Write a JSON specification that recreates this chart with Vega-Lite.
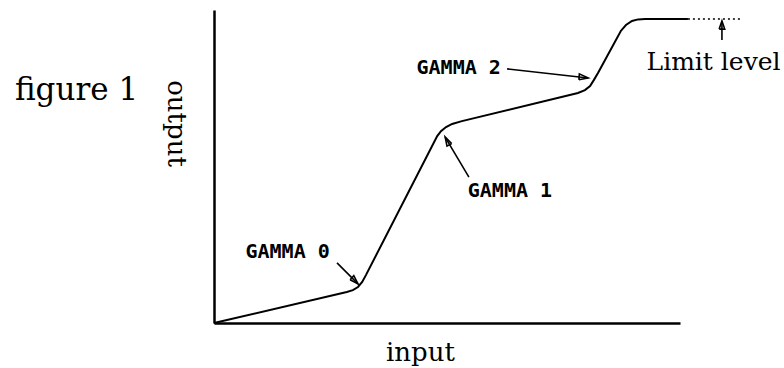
{
  "$schema": "https://vega.github.io/schema/vega-lite/v6.json",
  "autosize": {"type": "none"},
  "width": 466,
  "height": 313,
  "padding": {"left": 214, "top": 10, "right": 104, "bottom": 45},
  "background": "white",
  "config": {"view": {"stroke": null}},
  "datasets": {
    "curve": [
      {"input": 0, "output": 0},
      {"input": 28.5, "output": 9.9},
      {"input": 29.8, "output": 10.5},
      {"input": 30.9, "output": 11.5},
      {"input": 31.8, "output": 13.1},
      {"input": 32.6, "output": 15.3},
      {"input": 47.9, "output": 59.7},
      {"input": 48.7, "output": 61.3},
      {"input": 49.8, "output": 62.6},
      {"input": 51.1, "output": 63.6},
      {"input": 53.2, "output": 64.5},
      {"input": 78.1, "output": 73.5},
      {"input": 79.6, "output": 74.4},
      {"input": 80.7, "output": 75.7},
      {"input": 81.5, "output": 77.6},
      {"input": 82.4, "output": 79.9},
      {"input": 87.3, "output": 93.3},
      {"input": 88.4, "output": 95.2},
      {"input": 89.7, "output": 96.5},
      {"input": 91.0, "output": 97.0},
      {"input": 92.5, "output": 97.1},
      {"input": 101.7, "output": 97.1}
    ],
    "limit": [
      {"input": 101.7, "output": 97.1},
      {"input": 112.9, "output": 97.1}
    ],
    "arrows": [
      {"seg": "g0-shaft", "ord": 1, "input": 26.4, "output": 19.2},
      {"seg": "g0-shaft", "ord": 2, "input": 30.9, "output": 12.5},
      {"seg": "g0-head", "ord": 1, "input": 29.2, "output": 13.8},
      {"seg": "g0-head", "ord": 2, "input": 30.9, "output": 12.5},
      {"seg": "g0-head", "ord": 3, "input": 30.0, "output": 15.1},
      {"seg": "g0-head", "ord": 4, "input": 29.2, "output": 13.8},
      {"seg": "g1-shaft", "ord": 1, "input": 54.7, "output": 46.6},
      {"seg": "g1-shaft", "ord": 2, "input": 49.6, "output": 59.4},
      {"seg": "g1-head", "ord": 1, "input": 51.0, "output": 57.3},
      {"seg": "g1-head", "ord": 2, "input": 49.6, "output": 59.4},
      {"seg": "g1-head", "ord": 3, "input": 50.0, "output": 56.5},
      {"seg": "g1-head", "ord": 4, "input": 51.0, "output": 57.3},
      {"seg": "g2-shaft", "ord": 1, "input": 62.9, "output": 81.2},
      {"seg": "g2-shaft", "ord": 2, "input": 80.3, "output": 78.3},
      {"seg": "g2-head", "ord": 1, "input": 78.3, "output": 77.7},
      {"seg": "g2-head", "ord": 2, "input": 80.3, "output": 78.3},
      {"seg": "g2-head", "ord": 3, "input": 78.4, "output": 79.6},
      {"seg": "g2-head", "ord": 4, "input": 78.3, "output": 77.7},
      {"seg": "lim-shaft", "ord": 1, "input": 109.0, "output": 90.4},
      {"seg": "lim-shaft", "ord": 2, "input": 109.0, "output": 96.5},
      {"seg": "lim-head", "ord": 1, "input": 108.4, "output": 93.9},
      {"seg": "lim-head", "ord": 2, "input": 109.0, "output": 96.5},
      {"seg": "lim-head", "ord": 3, "input": 109.6, "output": 93.9},
      {"seg": "lim-head", "ord": 4, "input": 108.4, "output": 93.9}
    ],
    "gammas": [
      {"label": "GAMMA 0", "input": 15.8, "output": 20.8},
      {"label": "GAMMA 1", "input": 63.5, "output": 40.3},
      {"label": "GAMMA 2", "input": 52.5, "output": 79.6}
    ],
    "limitLabel": [
      {"label": "Limit level", "input": 107.2, "output": 80.8}
    ],
    "figLabel": [
      {"label": "figure 1", "input": -29.5, "output": 71.2}
    ]
  },
  "layer": [
    {
      "data": {"name": "curve"},
      "mark": {"type": "line", "color": "black", "strokeWidth": 2, "clip": false},
      "encoding": {
        "x": {
          "field": "input", "type": "quantitative",
          "scale": {"domain": [0, 100], "nice": false, "zero": false},
          "axis": {
            "title": "input", "ticks": false, "labels": false, "grid": false,
            "domainColor": "black", "domainWidth": 2.5,
            "titleFont": "DejaVu Serif", "titleFontSize": 26, "titleFontWeight": "normal", "titleColor": "black",
            "titleX": 206, "titleY": 29, "titleAlign": "center", "titleBaseline": "middle"
          }
        },
        "y": {
          "field": "output", "type": "quantitative",
          "scale": {"domain": [0, 100], "nice": false, "zero": false},
          "axis": {
            "title": "output", "ticks": false, "labels": false, "grid": false,
            "domainColor": "black", "domainWidth": 2.5,
            "titleFont": "DejaVu Serif", "titleFontSize": 26, "titleFontWeight": "normal", "titleColor": "black",
            "titleAngle": 90, "titleX": -39, "titleY": 113, "titleAlign": "center", "titleBaseline": "middle"
          }
        }
      }
    },
    {
      "data": {"name": "limit"},
      "mark": {"type": "line", "color": "black", "strokeWidth": 1.5, "strokeDash": [2, 3], "clip": false},
      "encoding": {
        "x": {"field": "input", "type": "quantitative"},
        "y": {"field": "output", "type": "quantitative"}
      }
    },
    {
      "data": {"name": "arrows"},
      "mark": {"type": "line", "color": "black", "strokeWidth": 1.6, "strokeJoin": "miter", "clip": false},
      "encoding": {
        "x": {"field": "input", "type": "quantitative"},
        "y": {"field": "output", "type": "quantitative"},
        "detail": {"field": "seg", "type": "nominal"},
        "order": {"field": "ord", "type": "quantitative"}
      }
    },
    {
      "data": {"name": "gammas"},
      "mark": {"type": "text", "font": "DejaVu Sans Mono", "fontSize": 20, "fontWeight": "bold", "color": "black", "align": "center", "baseline": "alphabetic"},
      "encoding": {
        "x": {"field": "input", "type": "quantitative"},
        "y": {"field": "output", "type": "quantitative"},
        "text": {"field": "label"}
      }
    },
    {
      "data": {"name": "limitLabel"},
      "mark": {"type": "text", "font": "DejaVu Serif", "fontSize": 25, "color": "black", "align": "center", "baseline": "alphabetic"},
      "encoding": {
        "x": {"field": "input", "type": "quantitative"},
        "y": {"field": "output", "type": "quantitative"},
        "text": {"field": "label"}
      }
    },
    {
      "data": {"name": "figLabel"},
      "mark": {"type": "text", "font": "DejaVu Serif", "fontSize": 31, "color": "black", "align": "center", "baseline": "alphabetic"},
      "encoding": {
        "x": {"field": "input", "type": "quantitative"},
        "y": {"field": "output", "type": "quantitative"},
        "text": {"field": "label"}
      }
    }
  ]
}
